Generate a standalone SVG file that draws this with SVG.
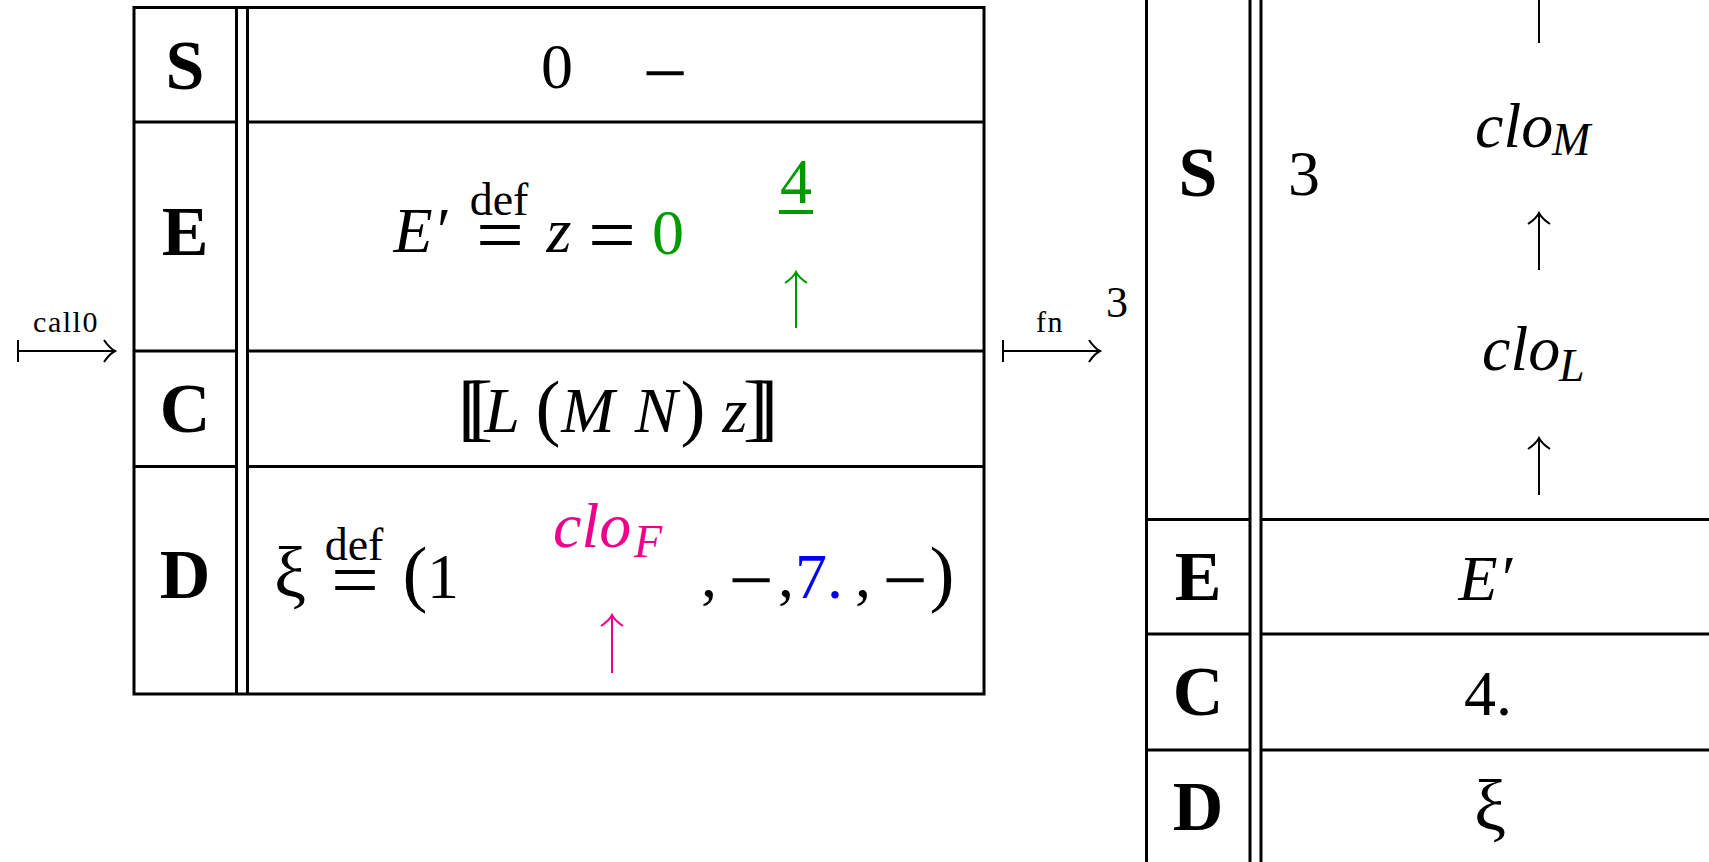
<svg xmlns="http://www.w3.org/2000/svg" width="1709" height="862" viewBox="0 0 1709 862">
<defs>
<style>
.bg{fill:#ffffff}
.rule{stroke:#000;stroke-width:3;fill:none}
.t{font-family:"Liberation Serif","Times New Roman",serif;fill:#000}
.lab{font-family:"Liberation Serif","Times New Roman",serif;font-weight:bold;font-size:70px;text-anchor:middle;fill:#000}
.m{font-size:64px}
.it{font-style:italic}
.sup{font-size:46px}
.eq{font-size:80px;text-anchor:middle}
.par{font-size:75px}
.mid{text-anchor:middle}
.small{font-size:30px;letter-spacing:1.5px;text-anchor:middle}
.green{fill:#009900}
.mag{fill:#ec008c}
.blue{fill:#0000ff}
.conn{fill:none;stroke-width:2}
</style>
<marker id="ahK" markerUnits="userSpaceOnUse" viewBox="-14 -14 28 28" markerWidth="28" markerHeight="28" refX="0" refY="0" orient="auto" overflow="visible">
<path d="M-11,-11 C-7,-5 -3,-1.5 0,0 C-3,1.5 -7,5 -11,11" fill="none" stroke="#000" stroke-width="2"/>
</marker>
<marker id="ahG" markerUnits="userSpaceOnUse" viewBox="-14 -14 28 28" markerWidth="28" markerHeight="28" refX="0" refY="0" orient="auto" overflow="visible">
<path d="M-11,-11 C-7,-5 -3,-1.5 0,0 C-3,1.5 -7,5 -11,11" fill="none" stroke="#009900" stroke-width="2"/>
</marker>
<marker id="ahM" markerUnits="userSpaceOnUse" viewBox="-14 -14 28 28" markerWidth="28" markerHeight="28" refX="0" refY="0" orient="auto" overflow="visible">
<path d="M-11,-11 C-7,-5 -3,-1.5 0,0 C-3,1.5 -7,5 -11,11" fill="none" stroke="#ec008c" stroke-width="2"/>
</marker>
</defs>
<rect class="bg" x="0" y="0" width="1709" height="862"/>

<g id="left-table">
  <g id="left-grid">
    <rect class="rule" x="134" y="7.5" width="850" height="686.5"/>
    <line class="rule" x1="236.5" y1="7.5" x2="236.5" y2="694"/>
    <line class="rule" x1="247.5" y1="7.5" x2="247.5" y2="694"/>
    <line class="rule" x1="134" y1="122" x2="236.5" y2="122"/>
    <line class="rule" x1="247.5" y1="122" x2="984" y2="122"/>
    <line class="rule" x1="134" y1="351" x2="236.5" y2="351"/>
    <line class="rule" x1="247.5" y1="351" x2="984" y2="351"/>
    <line class="rule" x1="134" y1="466.5" x2="236.5" y2="466.5"/>
    <line class="rule" x1="247.5" y1="466.5" x2="984" y2="466.5"/>
  </g>
  <g id="left-S">
    <text class="lab" x="185" y="89">S</text>
    <text class="t m mid" x="557" y="88">0</text>
    <text class="t eq" x="665" y="100">−</text>
  </g>
  <g id="left-E">
    <text class="lab" x="185" y="255">E</text>
    <text class="t m it mid" x="413" y="252">E</text>
    <text class="t m mid" x="444" y="252">′</text>
    <text class="t sup mid" x="499" y="215">def</text>
    <text class="t eq" x="500" y="262" textLength="48" lengthAdjust="spacingAndGlyphs">=</text>
    <text class="t m it mid" x="559" y="252">z</text>
    <text class="t eq" x="612" y="262" textLength="48" lengthAdjust="spacingAndGlyphs">=</text>
    <text class="t m mid green" x="668" y="254">0</text>
    <text class="t m mid green" x="796" y="203">4</text>
    <rect class="green" x="779" y="210" width="34" height="4"/>
  </g>
  <g id="left-C">
    <text class="lab" x="185" y="432">C</text>
    <text class="t par" x="458" y="432">[</text>
    <text class="t par" x="468" y="432">[</text>
    <text class="t m it mid" x="502" y="432">L</text>
    <text class="t par mid" x="548" y="432">(</text>
    <text class="t m it mid" x="588" y="432">M</text>
    <text class="t m it mid" x="656" y="432">N</text>
    <text class="t par mid" x="693" y="432">)</text>
    <text class="t m it mid" x="735" y="432">z</text>
    <text class="t par" x="743" y="432">]</text>
    <text class="t par" x="753" y="432">]</text>
  </g>
  <g id="left-D">
    <text class="lab" x="185" y="598">D</text>
    <text class="t mid" style="font-size:72px" x="290" y="597">ξ</text>
    <text class="t sup mid" x="354" y="560">def</text>
    <text class="t eq" x="355" y="607" textLength="48" lengthAdjust="spacingAndGlyphs">=</text>
    <text class="t par mid" x="415" y="598">(</text>
    <text class="t m mid" x="443" y="598">1</text>
    <text class="t m it mag" x="553" y="547">clo</text>
    <text class="t sup it mag" x="634" y="557">F</text>
    <text class="t m mid" x="709" y="597">,</text>
    <text class="t eq" x="751" y="607">−</text>
    <text class="t m mid" x="786" y="597">,</text>
    <text class="t m mid blue" x="819" y="598">7.</text>
    <text class="t m mid" x="863" y="597">,</text>
    <text class="t eq" x="905" y="607">−</text>
    <text class="t par mid" x="942" y="598">)</text>
  </g>
</g>

<g id="right-table">
  <g id="right-grid">
    <line class="rule" x1="1146.5" y1="0" x2="1146.5" y2="862"/>
    <line class="rule" x1="1250" y1="0" x2="1250" y2="862"/>
    <line class="rule" x1="1261" y1="0" x2="1261" y2="862"/>
    <line class="rule" x1="1146.5" y1="519.5" x2="1250" y2="519.5"/>
    <line class="rule" x1="1261" y1="519.5" x2="1709" y2="519.5"/>
    <line class="rule" x1="1146.5" y1="634" x2="1250" y2="634"/>
    <line class="rule" x1="1261" y1="634" x2="1709" y2="634"/>
    <line class="rule" x1="1146.5" y1="750" x2="1250" y2="750"/>
    <line class="rule" x1="1261" y1="750" x2="1709" y2="750"/>
  </g>
  <g id="right-S">
    <text class="lab" x="1198" y="196">S</text>
    <text class="t m mid" x="1304" y="195">3</text>
    <text class="t m it" x="1475" y="147">clo</text>
    <text class="t sup it" x="1552" y="155">M</text>
    <text class="t m it" x="1482" y="370">clo</text>
    <text class="t sup it" x="1559" y="381">L</text>
  </g>
  <g id="right-E">
    <text class="lab" x="1198" y="600">E</text>
    <text class="t m it mid" x="1478" y="600">E</text>
    <text class="t m mid" x="1509" y="600">′</text>
  </g>
  <g id="right-C">
    <text class="lab" x="1198" y="715">C</text>
    <text class="t m mid" x="1488" y="715">4.</text>
  </g>
  <g id="right-D">
    <text class="lab" x="1198" y="830">D</text>
    <text class="t mid" style="font-size:72px" x="1490" y="830">ξ</text>
  </g>
</g>

<g id="connectors">
  <g id="call0-arrow">
    <line x1="18" y1="340" x2="18" y2="362" stroke="#000" stroke-width="2"/>
    <line class="conn" stroke="#000" x1="18" y1="351" x2="115" y2="351" marker-end="url(#ahK)"/>
    <text class="t small" x="66" y="332">call0</text>
  </g>
  <g id="fn-arrow">
    <line x1="1003" y1="340" x2="1003" y2="362" stroke="#000" stroke-width="2"/>
    <line class="conn" stroke="#000" x1="1003" y1="351" x2="1100" y2="351" marker-end="url(#ahK)"/>
    <text class="t small" x="1050" y="332">fn</text>
    <text class="t mid" style="font-size:44px" x="1117" y="317">3</text>
  </g>
  <line id="green-ptr" class="conn" stroke="#009900" x1="796" y1="328" x2="796" y2="272" marker-end="url(#ahG)"/>
  <line id="mag-ptr" class="conn" stroke="#ec008c" x1="612" y1="673" x2="612" y2="615" marker-end="url(#ahM)"/>
  <line id="top-ptr" class="conn" stroke="#000" x1="1539" y1="0" x2="1539" y2="43"/>
  <line id="m-ptr" class="conn" stroke="#000" x1="1539" y1="270" x2="1539" y2="213" marker-end="url(#ahK)"/>
  <line id="l-ptr" class="conn" stroke="#000" x1="1539" y1="495" x2="1539" y2="438" marker-end="url(#ahK)"/>
</g>
</svg>
